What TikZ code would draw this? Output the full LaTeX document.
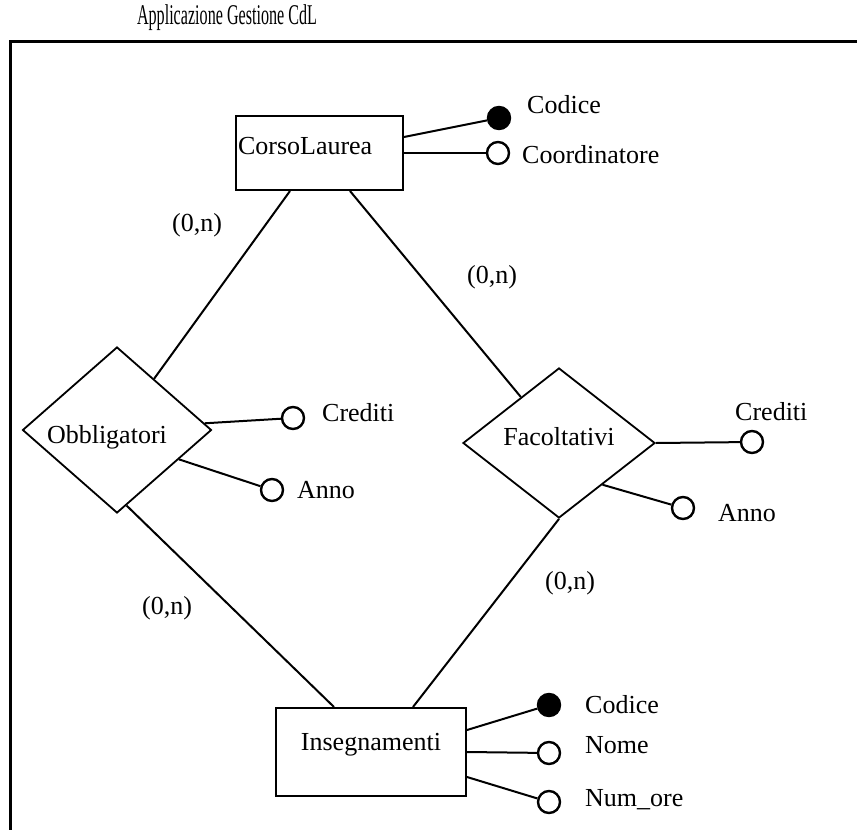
\documentclass[tikz,border=0pt]{standalone}
\usepackage{fontspec}
\setmainfont{Liberation Serif}
\usetikzlibrary{shapes.geometric,calc}
\begin{document}
\begin{tikzpicture}[x=1pt,y=-1pt,
    every node/.style={font=\fontsize{26}{30}\selectfont},
    entity/.style={draw,line width=2pt,inner xsep=2pt,inner ysep=0pt},
    relation/.style={draw,diamond,line width=1.8pt,inner sep=0pt},
    attr/.style={draw,circle,line width=2.4pt,minimum size=22pt,inner sep=0pt},
    keyattr/.style={attr,fill=black},
    link/.style={line width=2pt},
    attrlabel/.style={anchor=west,inner sep=0pt}]
                \useasboundingbox (0,0) rectangle (857,830);
                \draw[line width=3pt] (10,830) -- (10,41) -- (857,41);
                \node (title) at (227,18) {\scalebox{0.62}[1.1]{Applicazione Gestione CdL}};
                \node[entity,minimum width=167pt,text width=163pt,align=left,text height=38pt,text depth=36pt] (CL) at (319.5,153) {CorsoLaurea};
                \node[entity,minimum width=190pt,text width=186pt,align=center,text height=42pt,text depth=46pt] (IN) at (371,752) {Insegnamenti};
                \node[relation,minimum width=189pt,minimum height=151pt,text width=140pt,align=left,text height=26pt,text depth=0pt] (OB) at (117,430) {Obbligatori};
                \node[relation,minimum width=192pt,minimum height=150pt,text height=12pt,text depth=8pt] (FC) at (559,443) {Facoltativi};
                \draw[link] ([xshift=-29.5pt]CL.south) -- (OB);
                \draw[link] ([xshift=30.5pt]CL.south) -- (FC);
                \draw[link] ($(OB.south)!0.1!(OB.east)$) -- ([xshift=-37pt]IN.north);
                \draw[link] (FC.south) -- ([xshift=42pt]IN.north);
                \node at (197,225) (c1) {(0,n)};
                \node at (492,277) (c2) {(0,n)};
                \node at (167,608) (c3) {(0,n)};
                \node at (570,583) (c4) {(0,n)};
                \node[keyattr] (CLk) at (499,118) {};
                \node[attr] (CLc) at (498,153) {};
                \draw[link] ([yshift=16pt]CL.east) -- (CLk);
                \draw[link] (CL.east) -- (CLc);
                \node[attrlabel] (CLkn) at (527,105) {Codice};
                \node[attrlabel] (CLcn) at (522,155) {Coordinatore};
                \node[attr] (OBc) at (293,418) {};
                \node[attr] (OBa) at (272,490) {};
                \draw[link] ($(OB.north)!0.92!(OB.east)$) -- (OBc);
                \draw[link] ($(OB.east)!0.35!(OB.south)$) -- (OBa);
                \node[attrlabel] (OBcn) at (322,413) {Crediti};
                \node[attrlabel] (OBan) at (297,490) {Anno};
                \node[attr] (FCc) at (752,442) {};
                \node[attr] (FCa) at (683,508) {};
                \draw[link] (FC.east) -- (FCc);
                \draw[link] ($(FC.east)!0.55!(FC.south)$) -- (FCa);
                \node[attrlabel] (FCcn) at (735,412) {Crediti};
                \node[attrlabel] (FCan) at (718,513) {Anno};
                \node[keyattr] (INk) at (549,705) {};
                \node[attr] (INn) at (549,753) {};
                \node[attr] (INo) at (549,802) {};
                \draw[link] ([yshift=22pt]IN.east) -- (INk);
                \draw[link] (IN.east) -- (INn);
                \draw[link] ([yshift=-25pt]IN.east) -- (INo);
                \node[attrlabel] (INkn) at (585,705) {Codice};
                \node[attrlabel] (INnn) at (585,745) {Nome};
                \node[attrlabel] (INon) at (585,800) {Num\_ore};
            \end{tikzpicture}
\end{document}
